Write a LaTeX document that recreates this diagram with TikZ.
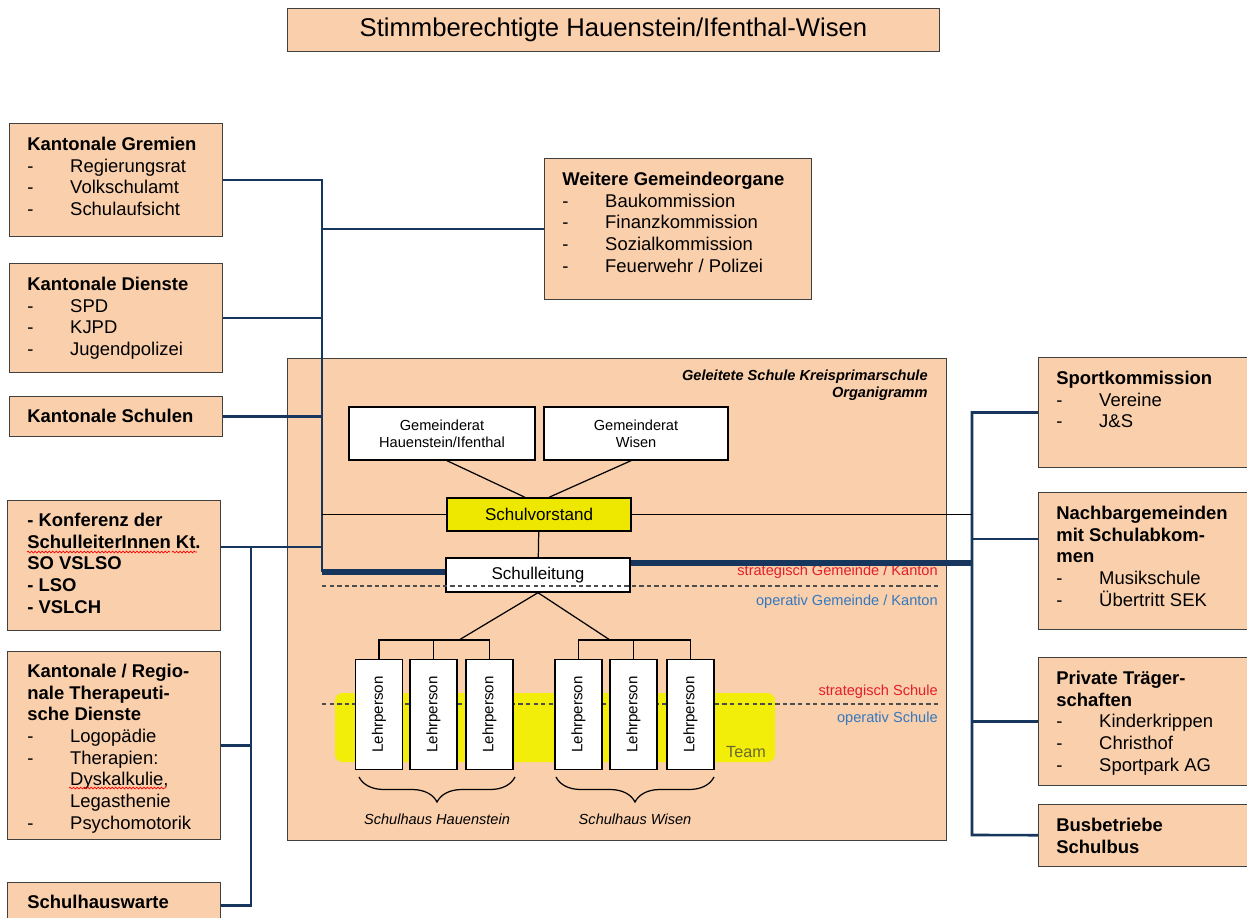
\documentclass[tikz,border=0pt]{standalone}
\usepackage{fontspec}
\setmainfont{Liberation Sans}
\usetikzlibrary{calc,decorations.pathreplacing,decorations.pathmorphing}
\definecolor{peach}{RGB}{250,207,172}
\definecolor{boxline}{RGB}{64,64,64}
\definecolor{navy}{RGB}{23,54,93}
\definecolor{vorstandgelb}{RGB}{238,232,0}
\definecolor{teamgelb}{RGB}{243,237,10}
\definecolor{teamtext}{RGB}{105,105,45}
\definecolor{rotlabel}{RGB}{228,30,40}
\definecolor{blaulabel}{RGB}{52,120,190}
\newcommand{\strich}{\makebox[24.4pt][l]{-}}
\newcommand{\einzug}{\hspace*{24.4pt}}

\begin{document}
\begin{tikzpicture}
  [x=0.02cm, y=-0.02cm,
   every node/.style={inner sep=0pt},
   pbox/.style={draw=boxline, line width=0.6pt, fill=peach, anchor=north west},
   ptext/.style={anchor=north west, align=left, font=\fontsize{10.5}{12.3}\selectfont},
   wbox/.style={draw=black, line width=0.8pt, fill=white, align=center, font=\fontsize{8.3}{9.6}\selectfont},
   lehrer/.style={wbox, rotate=90, minimum width=2.2cm, minimum height=0.94cm, font=\fontsize{8.6}{9.6}\selectfont},
   bus/.style={draw=navy, line width=1.5pt},
   thickbus/.style={draw=navy, line width=3pt},
   fein/.style={draw=black, line width=0.7pt},
   trenn/.style={draw=black!70, line width=0.6pt, dash pattern=on 2.5pt off 1.8pt},
   klein/.style={font=\fontsize{8.3}{9.6}\selectfont},
   spell/.style={draw=red, line width=0.4pt, decorate, decoration={snake, amplitude=0.5pt, segment length=2pt}}]
  \fill[white] (0,0) rectangle (1247,917);
  \useasboundingbox (0,0) rectangle (1247,917);
  \clip (0,0) rectangle (1247,917);

  \node[pbox, minimum width=13.04cm, minimum height=0.86cm, font=\fontsize{14.6}{17}\selectfont] (titel) at (287,8)
    {Stimmberechtigte Hauenstein/Ifenthal-Wisen};

  \node[pbox, minimum width=4.26cm, minimum height=2.26cm] (gremien) at (9,123) {};
  \node[ptext] (gremientxt) at ($(gremien.north west)+(18,14)$)
    {\textbf{Kantonale Gremien}\\ \strich Regierungsrat\\ \strich Volkschulamt\\ \strich Schulaufsicht};
  \node[pbox, minimum width=4.26cm, minimum height=2.18cm] (dienste) at (9,263) {};
  \node[ptext] (diensttxt) at ($(dienste.north west)+(18,14)$)
    {\textbf{Kantonale Dienste}\\ \strich SPD\\ \strich KJPD\\ \strich Jugendpolizei};
  \node[pbox, minimum width=4.26cm, minimum height=0.8cm] (schulen) at (9,396) {};
  \node[ptext] (schulentxt) at ($(schulen.north west)+(18,13)$) {\textbf{Kantonale Schulen}};
  \node[pbox, minimum width=4.26cm, minimum height=2.6cm] (konf) at (7,500) {};
  \node[ptext, font=\fontsize{10.5}{12.3}\selectfont\bfseries] (konftxt) at ($(konf.north west)+(20,13)$)
    {- Konferenz der\\ SchulleiterInnen Kt.\\ SO VSLSO\\ - LSO\\ - VSLCH};
  \node[pbox, minimum width=4.26cm, minimum height=3.76cm] (regio) at (7,651) {};
  \node[ptext] (regiotxt) at ($(regio.north west)+(20,13)$)
    {\textbf{Kantonale / Regio-}\\ \textbf{nale Therapeuti-}\\ \textbf{sche Dienste}\\ \strich Logop\"adie\\
     \strich Therapien:\\ \einzug Dyskalkulie,\\ \einzug Legasthenie\\ \strich Psychomotorik};
  \node[pbox, minimum width=4.26cm, minimum height=0.92cm] (warte) at (7,882) {};
  \node[ptext] (wartetxt) at ($(warte.north west)+(20,13)$) {\textbf{Schulhauswarte}};

  \node[pbox, minimum width=5.34cm, minimum height=2.82cm] (weitere) at (544,158) {};
  \node[ptext] (weiteretxt) at ($(weitere.north west)+(18,14)$)
    {\textbf{Weitere Gemeindeorgane}\\ \strich Baukommission\\ \strich Finanzkommission\\
     \strich Sozialkommission\\ \strich Feuerwehr / Polizei};

  \node[pbox, minimum width=4.44cm, minimum height=2.2cm] (sport) at (1038,357) {};
  \node[ptext] (sporttxt) at ($(sport.north west)+(18,14)$)
    {\textbf{Sportkommission}\\ \strich Vereine\\ \strich J\&S};
  \node[pbox, minimum width=4.44cm, minimum height=2.74cm] (nachbar) at (1038,492) {};
  \node[ptext] (nachbartxt) at ($(nachbar.north west)+(18,14)$)
    {\textbf{Nachbargemeinden}\\ \textbf{mit Schulabkom-}\\ \textbf{men}\\ \strich Musikschule\\ \strich \"Ubertritt SEK};
  \node[pbox, minimum width=4.44cm, minimum height=2.56cm] (privat) at (1038,657) {};
  \node[ptext] (privattxt) at ($(privat.north west)+(18,14)$)
    {\textbf{Private Tr\"ager-}\\ \textbf{schaften}\\ \strich Kinderkrippen\\ \strich Christhof\\ \strich Sportpark AG};
  \node[pbox, minimum width=4.44cm, minimum height=1.24cm] (busb) at (1038,804) {};
  \node[ptext] (busbtxt) at ($(busb.north west)+(18,14)$) {\textbf{Busbetriebe}\\ \textbf{Schulbus}};

  \node[pbox, minimum width=13.18cm, minimum height=9.64cm] (schule) at (287,358) {};
  \node[anchor=north east, align=right, font=\fontsize{8.3}{9.2}\selectfont\bfseries\itshape] (kopf) at (928,370)
    {Geleitete Schule Kreisprimarschule\\ Organigramm};

  \fill[teamgelb, rounded corners=0.15cm] (335,693) rectangle (775,762);
  \node[font=\fontsize{9.2}{10}\selectfont, text=teamtext] (team) at (746,752) {Team};
  \coordinate (d2l) at (322,704);
  \coordinate (d2r) at (938,704);
  \draw[trenn] (d2l) -- (d2r);
  \node[klein, anchor=east, text=rotlabel] (strs) at (938,692) {strategisch Schule};
  \node[klein, anchor=east, text=blaulabel] (ops) at (938,719) {operativ Schule};

  \foreach \n/\x in {1/379,2/433.5,3/489.5,4/578.5,5/633.5,6/690.5}
    \node[lehrer] (l\n) at (\x,714.5) {Lehrperson};

  \node[wbox, minimum width=3.72cm, minimum height=1.06cm] (grh) at (442,433.5) {Gemeinderat\\ Hauenstein/Ifenthal};
  \node[wbox, minimum width=3.68cm, minimum height=1.06cm] (grw) at (636,433.5) {Gemeinderat\\ Wisen};
  \node[wbox, fill=vorstandgelb, minimum width=3.68cm, minimum height=0.66cm, font=\fontsize{9.7}{11}\selectfont] (vorstand) at (539,514.5) {Schulvorstand};
  \node[wbox, minimum width=3.68cm, minimum height=0.68cm, font=\fontsize{9.7}{11}\selectfont] (leitung) at (538,575) {Schulleitung};

  \coordinate (d1l) at (322,586);
  \coordinate (d1r) at (938,586);
  \draw[trenn] (d1l) -- (d1r);
  \node[klein, anchor=east, text=rotlabel] (strgk) at (938,572) {strategisch Gemeinde / Kanton};
  \node[klein, anchor=east, text=blaulabel] (opgk) at (938,602) {operativ Gemeinde / Kanton};

  \draw[fein, decorate, decoration={brace, mirror, amplitude=0.5cm}] (359,777) -- (515,777);
  \draw[fein, decorate, decoration={brace, mirror, amplitude=0.5cm}] (556,777) -- (714,777);
  \node[klein, font=\fontsize{8.3}{9.6}\selectfont\itshape] (shh) at (437,819) {Schulhaus Hauenstein};
  \node[klein, font=\fontsize{8.3}{9.6}\selectfont\itshape] (shw) at (635,819) {Schulhaus Wisen};

  \draw[fein] ($(grh.south)+(5,0)$) -- ($(vorstand.north)+(-14,0)$);
  \draw[fein] ($(grw.south)+(-5,0)$) -- ($(vorstand.north)+(10,0)$);
  \draw[fein] (vorstand) -- (leitung);
  \coordinate (fl) at (459,640);
  \coordinate (fr) at (610,640);
  \draw[fein] (leitung.south) -- (fl);
  \draw[fein] (leitung.south) -- (fr);
  \draw[fein] (l1) |- (fl) -| (l3);
  \draw[fein] (l2) -- (l2 |- fl);
  \draw[fein] (l4) |- (fr) -| (l6);
  \draw[fein] (l5) -- (l5 |- fr);

  \coordinate (lbot) at (322,572);
  \coordinate (kj) at (251,547);
  \coordinate (rbot) at (972,835);
  \coordinate (nj) at (972,539);
  \coordinate (sj) at (972,563);
  \draw[bus] (gremien) -| (lbot);
  \draw[bus] (dienste) -- (dienste -| lbot);
  \draw[bus] (schulen) -- (schulen -| lbot);
  \draw[bus] (weitere) -- (weitere -| lbot);
  \draw[bus] (konf.east |- kj) -- (kj -| lbot);
  \draw[bus] (kj) |- (warte);
  \draw[bus] (regio) -- (regio -| kj);
  \draw[thickbus] (lbot) -- (leitung.west |- lbot);
  \draw[thickbus] (leitung.east |- sj) -- (sj);
  \draw[bus] (sport) -| (rbot) -- (busb);
  \draw[bus] (nj) -- (nachbar.west |- nj);
  \draw[bus] (privat) -- (privat -| rbot);
  \draw[fein, line width=0.6pt] (vorstand) -- (vorstand -| lbot);
  \draw[fein, line width=0.6pt] (vorstand) -- (vorstand -| rbot);

  \draw[spell] (27,552) -- (170,552);
  \draw[spell] (172,552) -- (197,552);
  \draw[spell] (69,788) -- (166,788);
\end{tikzpicture}
\end{document}
